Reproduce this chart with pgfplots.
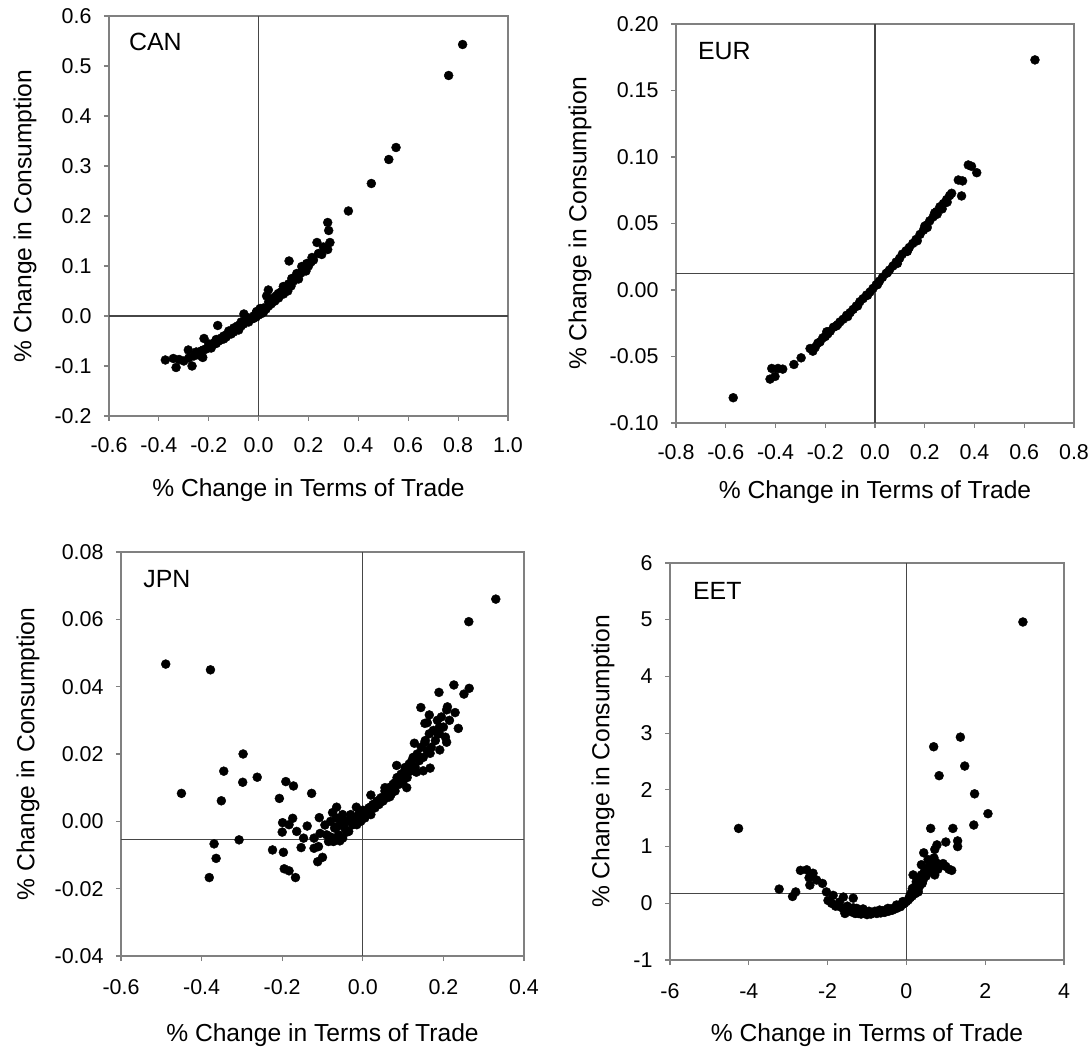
\documentclass[border=0pt]{standalone}
\usepackage{pgfplots}
\pgfplotsset{compat=1.18}
\usepackage{fontspec}
\setmainfont{Liberation Sans}
\definecolor{framegray}{RGB}{128,128,128}
\definecolor{crossgray}{RGB}{70,70,70}
\tikzset{cross/.style={draw=crossgray, line width=1.1bp}}
\pgfplotsset{
  panel/.style={
    scale only axis, anchor=south west,
    axis line style={draw=framegray, line width=1.1bp},
    every tick/.style={draw=framegray, line width=1.1bp},
    tick align=outside, major tick length=5bp,
    tick pos=left,
    tick label style={font=\fontsize{21.5}{24}\selectfont},
    xticklabel style={yshift=-13bp},
    yticklabel style={xshift=-9bp},
    label style={font=\fontsize{24.7}{28}\selectfont},
    /pgf/number format/assume math mode=true,
    scaled ticks=false,
    xlabel={\% Change in Terms of Trade},
    ylabel={\% Change in Consumption},
  },
  dots/.style={only marks, mark=*, mark size=4.5bp, black, mark options={fill=black, draw=black}},
}
\begin{document}
\begin{tikzpicture}
\path[use as bounding box] (0,0) rectangle (1092bp,1051bp);
% ---------------- CAN
\begin{axis}[panel, at={(109bp,635bp)}, width=399bp, height=400bp,
  xmin=-0.6, xmax=1.0, ymin=-0.2, ymax=0.6,
  xtick={-0.6,-0.4,...,1.01}, ytick={-0.2,-0.1,...,0.61},
  xticklabel style={/pgf/number format/.cd, fixed, fixed zerofill, precision=1},
  yticklabel style={/pgf/number format/.cd, fixed, fixed zerofill, precision=1},
  xlabel style={at={(axis description cs:0.5,0)}, anchor=center, yshift=-74bp},
  ylabel style={at={(axis description cs:-0.2105,0.5)}, anchor=center},
]
\draw[cross] (axis cs:0,-0.2) -- (axis cs:0,0.6);
\draw[cross] (axis cs:-0.6,0) -- (axis cs:1.0,0);
\addplot[dots] table {
x y
0.818 0.543
0.762 0.481
0.551 0.337
0.522 0.313
0.452 0.265
0.360 0.210
0.277 0.187
0.281 0.171
0.286 0.147
0.277 0.133
0.253 0.123
0.234 0.147
0.214 0.117
0.193 0.105
0.173 0.099
0.122 0.110
0.133 0.075
0.153 0.085
0.099 0.059
0.117 0.050
0.079 0.045
0.039 0.052
0.032 0.040
0.059 0.029
0.006 0.015
-0.008 0.009
0.012 0.005
-0.059 0.004
-0.021 -0.005
-0.048 -0.011
-0.075 -0.018
-0.102 -0.028
-0.128 -0.038
-0.164 -0.019
-0.155 -0.048
-0.188 -0.058
-0.219 -0.045
-0.222 -0.068
-0.224 -0.083
-0.248 -0.075
-0.282 -0.068
-0.267 -0.100
-0.319 -0.087
-0.331 -0.103
-0.342 -0.085
-0.374 -0.088
-0.30 -0.090
-0.28 -0.084
-0.26 -0.080
-0.25 -0.072
-0.24 -0.078
-0.23 -0.070
-0.21 -0.066
-0.20 -0.062
-0.20 -0.056
-0.19 -0.064
-0.18 -0.054
-0.17 -0.055
-0.17 -0.047
-0.16 -0.050
-0.15 -0.044
-0.14 -0.046
-0.14 -0.040
-0.13 -0.042
-0.12 -0.035
-0.12 -0.030
-0.11 -0.036
-0.10 -0.032
-0.10 -0.024
-0.09 -0.026
-0.085 -0.020
-0.08 -0.028
-0.07 -0.020
-0.07 -0.012
-0.06 -0.016
-0.05 -0.008
-0.04 -0.012
-0.04 -0.004
-0.03 -0.006
-0.02 0.000
-0.01 -0.002
-0.01 0.006
0.00 0.002
0.01 0.010
0.02 0.008
0.02 0.016
0.03 0.014
0.04 0.020
0.04 0.028
0.05 0.024
0.06 0.036
0.065 0.030
0.07 0.040
0.08 0.036
0.09 0.048
0.10 0.044
0.11 0.056
0.12 0.064
0.13 0.060
0.14 0.070
0.15 0.078
0.16 0.074
0.17 0.086
0.18 0.092
0.19 0.090
0.20 0.100
0.21 0.108
0.22 0.112
0.24 0.125
0.26 0.138
};
\node[anchor=west, font=\fontsize{25}{28}\selectfont, inner sep=0pt] at (axis description cs:0.05,0.934) {CAN};
\end{axis}
% ---------------- EUR
\begin{axis}[panel, at={(676bp,628bp)}, width=398bp, height=399bp,
  xmin=-0.8, xmax=0.8, ymin=-0.10, ymax=0.20,
  xtick={-0.8,-0.6,...,0.81}, ytick={-0.10,-0.05,...,0.201},
  xticklabel style={/pgf/number format/.cd, fixed, fixed zerofill, precision=1},
  yticklabel style={/pgf/number format/.cd, fixed, fixed zerofill, precision=2},
  xlabel style={at={(axis description cs:0.5,0)}, anchor=center, yshift=-69bp},
  ylabel style={at={(axis description cs:-0.2412,0.5)}, anchor=center},
]
\draw[cross] (axis cs:0,-0.10) -- (axis cs:0,0.20);
\draw[cross] (axis cs:-0.8,0.0125) -- (axis cs:0.8,0.0125);
\addplot[dots] table {
x y
0.643 0.173
-0.570 -0.081
-0.422 -0.067
-0.415 -0.059
-0.402 -0.065
-0.390 -0.059
-0.371 -0.0595
-0.326 -0.056
-0.297 -0.051
-0.261 -0.044
-0.250 -0.046
-0.240 -0.043
-0.230 -0.040
-0.221 -0.039
-0.210 -0.036
-0.200 -0.035
-0.194 -0.0314
-0.190 -0.033
-0.180 -0.031
-0.167 -0.028
-0.155 -0.027
-0.150 -0.026
-0.141 -0.024
-0.128 -0.022
-0.114 -0.019
-0.110 -0.020
-0.100 -0.017
-0.088 -0.0146
-0.075 -0.012
-0.070 -0.012
-0.061 -0.0088
-0.048 -0.0065
-0.034 -0.0038
-0.030 -0.004
-0.020 -0.0015
-0.008 0.0012
0.005 0.004
0.010 0.004
0.018 0.0067
0.030 0.0095
0.045 0.0125
0.050 0.013
0.058 0.015
0.072 0.018
0.085 0.021
0.090 0.020
0.099 0.0238
0.110 0.027
0.125 0.0295
0.130 0.029
0.138 0.032
0.152 0.035
0.165 0.038
0.170 0.037
0.181 0.0418
0.195 0.045
0.200 0.048
0.208 0.0488
0.210 0.047
0.220 0.052
0.234 0.055
0.240 0.058
0.248 0.059
0.250 0.057
0.261 0.0626
0.270 0.061
0.275 0.065
0.288 0.068
0.290 0.066
0.300 0.071
0.308 0.0727
0.335 0.0827
0.352 0.082
0.348 0.0707
0.375 0.094
0.388 0.093
0.409 0.0882
};
\node[anchor=west, font=\fontsize{25}{28}\selectfont, inner sep=0pt] at (axis description cs:0.055,0.931) {EUR};
\end{axis}
% ---------------- JPN
\begin{axis}[panel, at={(121bp,95bp)}, width=403bp, height=404bp,
  xmin=-0.6, xmax=0.4, ymin=-0.04, ymax=0.08,
  xtick={-0.6,-0.4,...,0.41}, ytick={-0.04,-0.02,...,0.081},
  xticklabel style={yshift=-2bp, /pgf/number format/.cd, fixed, fixed zerofill, precision=1},
  yticklabel style={/pgf/number format/.cd, fixed, fixed zerofill, precision=2},
  xlabel style={at={(axis description cs:0.5,0)}, anchor=center, yshift=-79bp},
  ylabel style={at={(axis description cs:-0.2308,0.5)}, anchor=center},
]
\draw[cross] (axis cs:0,-0.04) -- (axis cs:0,0.08);
\draw[cross] (axis cs:-0.6,-0.0055) -- (axis cs:0.4,-0.0055);
\addplot[dots] table {
x y
0.330 0.066
0.263 0.0593
0.226 0.0405
0.264 0.0395
0.251 0.0378
0.189 0.0383
0.144 0.0338
0.208 0.0331
0.229 0.0323
0.165 0.0316
0.154 0.0291
0.160 0.0293
0.190 0.028
0.237 0.0276
0.186 0.026
0.128 0.0232
0.154 0.0235
0.191 0.0212
0.208 0.0235
0.167 0.0202
0.084 0.0166
0.121 0.0178
0.167 0.0158
0.104 0.015
0.133 0.0146
0.150 0.015
0.055 0.010
0.080 0.0115
0.109 0.010
0.020 0.0078
0.042 0.0063
0.067 0.0073
-0.016 0.0042
0.000 0.0033
0.020 0.0043
-0.032 0.0004
-0.020 0.0006
-0.065 0.0042
-0.075 0.0026
-0.050 0.0008
-0.065 -0.0016
-0.081 -0.0046
-0.057 -0.0058
-0.073 -0.006
-0.040 -0.0032
-0.108 0.0011
-0.094 -0.0011
-0.138 -0.0014
-0.127 0.0083
-0.106 -0.0036
-0.121 -0.005
-0.121 -0.008
-0.110 -0.0075
-0.100 -0.0107
-0.112 -0.012
-0.153 -0.0078
-0.147 -0.005
-0.164 -0.003
-0.174 0.0009
-0.183 -0.001
-0.199 -0.0004
-0.200 -0.0032
-0.207 0.0068
-0.191 0.0118
-0.172 0.0105
-0.224 -0.0085
-0.197 -0.0092
-0.195 -0.0141
-0.183 -0.0147
-0.167 -0.0167
-0.297 0.020
-0.298 0.0116
-0.262 0.0131
-0.345 0.0149
-0.351 0.0061
-0.307 -0.0055
-0.369 -0.0067
-0.364 -0.0110
-0.381 -0.0167
-0.378 0.045
-0.489 0.0467
-0.450 0.0083
-0.09 -0.004
-0.085 -0.006
-0.08 0.000
-0.075 -0.005
-0.07 -0.002
-0.065 0.001
-0.06 -0.004
-0.055 -0.001
-0.05 -0.005
-0.05 0.002
-0.045 -0.002
-0.04 0.000
-0.035 -0.003
-0.03 0.002
-0.025 -0.001
-0.02 0.001
-0.015 -0.001
-0.01 0.002
-0.005 0.000
0.000 0.002
0.005 0.001
0.01 0.003
0.015 0.004
0.02 0.002
0.025 0.005
0.03 0.004
0.035 0.006
0.04 0.005
0.045 0.007
0.05 0.006
0.055 0.009
0.06 0.007
0.065 0.010
0.07 0.008
0.075 0.011
0.08 0.009
0.085 0.013
0.09 0.011
0.095 0.014
0.10 0.012
0.105 0.016
0.11 0.013
0.115 0.017
0.12 0.015
0.125 0.019
0.13 0.016
0.135 0.020
0.14 0.018
0.145 0.022
0.15 0.019
0.155 0.024
0.16 0.021
0.165 0.026
0.17 0.022
0.175 0.027
0.18 0.024
0.185 0.030
0.19 0.026
0.195 0.031
0.20 0.028
0.205 0.025
0.21 0.034
0.215 0.030
};
\node[anchor=west, font=\fontsize{25}{28}\selectfont, inner sep=0pt] at (axis description cs:0.055,0.933) {JPN};
\end{axis}
% ---------------- EET
\begin{axis}[panel, at={(670bp,91bp)}, width=394bp, height=397bp,
  xmin=-6, xmax=4, ymin=-1, ymax=6,
  xtick={-6,-4,...,4}, ytick={-1,0,...,6},
  xticklabel style={yshift=-2bp},
  xlabel style={at={(axis description cs:0.5,0)}, anchor=center, yshift=-75bp},
  ylabel style={at={(axis description cs:-0.170,0.5)}, anchor=center},
]
\draw[cross] (axis cs:0,-1) -- (axis cs:0,6);
\draw[cross] (axis cs:-6,0.18) -- (axis cs:4,0.18);
\addplot[dots] table {
x y
2.957 4.96
-4.26 1.32
1.37 2.93
0.692 2.76
0.83 2.25
1.48 2.42
1.73 1.93
2.07 1.58
1.71 1.38
0.616 1.32
1.18 1.32
1.0 1.08
1.3 1.1
1.3 1.0
0.776 1.03
0.72 0.95
0.44 0.89
0.38 0.68
0.55 0.77
0.93 0.7
1.08 0.6
0.72 0.5
0.6 0.57
0.17 0.5
0.25 0.38
0.4 0.35
0.15 0.26
0.3 0.2
0.08 0.12
-0.09 0.03
-0.25 -0.03
-0.47 -0.09
-0.68 -0.12
-0.93 -0.18
-1.1 -0.15
-1.26 -0.09
-1.22 -0.18
-1.35 0.09
-1.56 -0.18
-1.69 -0.06
-1.6 0.11
-1.86 0.14
-1.99 0.05
-2.03 0.2
-2.13 0.35
-2.28 0.41
-2.45 0.32
-2.37 0.53
-2.53 0.59
-2.69 0.58
-2.47 0.45
-2.81 0.2
-2.89 0.12
-3.23 0.25
-1.9 0.00
-1.8 -0.05
-1.7 0.02
-1.6 -0.10
-1.5 -0.05
-1.45 -0.12
-1.4 -0.15
-1.35 -0.08
-1.3 -0.18
-1.25 -0.12
-1.2 -0.15
-1.15 -0.19
-1.1 -0.10
-1.05 -0.16
-1.0 -0.20
-0.95 -0.14
-0.9 -0.19
-0.85 -0.17
-0.8 -0.14
-0.75 -0.18
-0.7 -0.15
-0.65 -0.17
-0.6 -0.13
-0.55 -0.16
-0.5 -0.12
-0.45 -0.14
-0.4 -0.10
-0.35 -0.12
-0.3 -0.08
-0.25 -0.09
-0.2 -0.05
-0.15 -0.06
-0.1 -0.02
-0.05 0.00
0.0 0.03
0.05 0.06
0.1 0.10
0.12 0.18
0.15 0.13
0.18 0.22
0.2 0.28
0.22 0.17
0.25 0.30
0.28 0.40
0.3 0.25
0.32 0.45
0.35 0.32
0.38 0.50
0.42 0.40
0.45 0.55
0.5 0.48
0.55 0.62
0.6 0.70
0.65 0.65
0.7 0.80
0.75 0.72
0.8 0.60
0.85 0.68
1.0 0.65
1.15 0.58
};
\node[anchor=west, font=\fontsize{25}{28}\selectfont, inner sep=0pt] at (axis description cs:0.058,0.930) {EET};
\end{axis}
\end{tikzpicture}
\end{document}
